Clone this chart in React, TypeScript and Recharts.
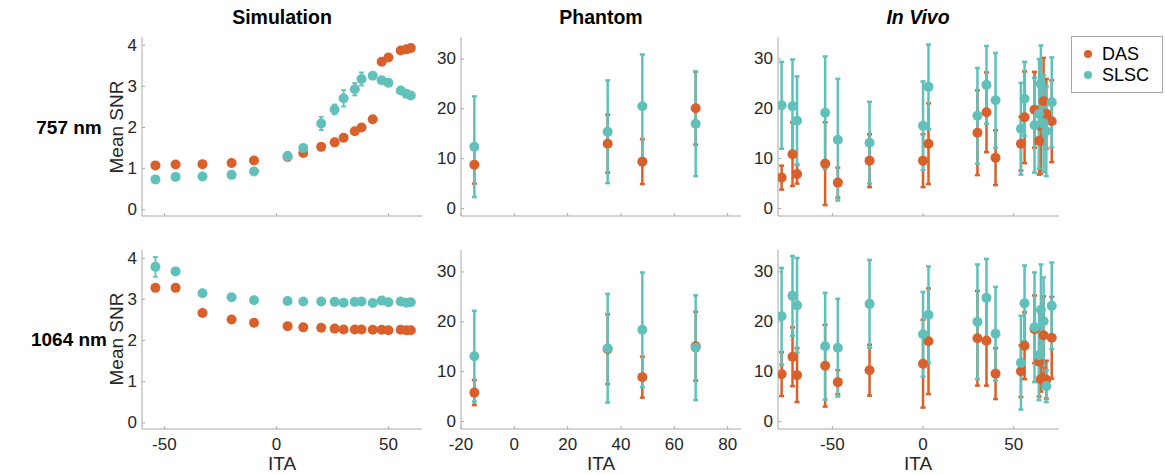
import { ScatterChart, Scatter, XAxis, YAxis, ErrorBar } from 'recharts'

const DAS_COLOR = '#d9602b'
const SLSC_COLOR = '#61c1ba'
const AXIS_COLOR = '#a8a8a8'
const TEXT_COLOR = '#262626'
const FONT = '"Liberation Sans", Arial, Helvetica, sans-serif'

// Simulation
const simIta = [-54, -45, -33, -20, -10, 5, 12, 20, 26, 30, 35, 38, 43, 47, 50, 55.5, 58, 60]
const sim757Das = [1.08, 1.1, 1.11, 1.14, 1.2, 1.29, 1.38, 1.53, 1.64, 1.75, 1.91, 2.0, 2.2, 3.6, 3.7, 3.87, 3.9, 3.93]
const sim757DasErr = [0.02, 0.02, 0.02, 0.02, 0.02, 0.02, 0.02, 0.02, 0.02, 0.02, 0.02, 0.02, 0.02, 0.02, 0.02, 0.02, 0.02, 0.02]
const sim757Slsc = [0.74, 0.8, 0.81, 0.85, 0.93, 1.3, 1.5, 2.1, 2.44, 2.71, 2.93, 3.18, 3.26, 3.15, 3.09, 2.9, 2.82, 2.78]
const sim757SlscErr = [0.03, 0.03, 0.08, 0.05, 0.04, 0.11, 0.08, 0.16, 0.12, 0.2, 0.15, 0.16, 0.04, 0.03, 0.03, 0.03, 0.03, 0.03]
const sim1064Das = [3.28, 3.28, 2.67, 2.51, 2.43, 2.35, 2.32, 2.31, 2.29, 2.27, 2.27, 2.27, 2.26, 2.26, 2.25, 2.26, 2.25, 2.25]
const sim1064DasErr = [0.02, 0.02, 0.02, 0.02, 0.02, 0.02, 0.02, 0.02, 0.02, 0.02, 0.02, 0.02, 0.02, 0.02, 0.02, 0.02, 0.02, 0.02]
const sim1064Slsc = [3.79, 3.68, 3.15, 3.05, 2.98, 2.96, 2.95, 2.95, 2.94, 2.92, 2.94, 2.95, 2.91, 2.97, 2.93, 2.95, 2.92, 2.93]
const sim1064SlscErr = [0.24, 0.03, 0.02, 0.02, 0.02, 0.02, 0.02, 0.02, 0.02, 0.02, 0.02, 0.02, 0.02, 0.02, 0.02, 0.02, 0.02, 0.02]

// Phantom
const phIta = [-15, 35, 48, 68]
const ph757Das = [8.8, 13.0, 9.4, 20.1]
const ph757DasErr = [3.8, 5.8, 4.5, 7.3]
const ph757Slsc = [12.4, 15.4, 20.5, 17.0]
const ph757SlscErr = [10.1, 10.3, 10.4, 10.5]
const ph1064Das = [5.8, 14.5, 8.9, 15.1]
const ph1064DasErr = [2.5, 7.0, 4.1, 6.9]
const ph1064Slsc = [13.1, 14.7, 18.4, 14.8]
const ph1064SlscErr = [9.1, 10.9, 11.5, 10.5]

// In vivo
const ivIta = [-78, -72, -69.5, -54, -47, -29.5, 0, 3, 30, 35, 40, 54, 56, 61.5, 64, 65, 66.5, 68, 71]
const iv757Das = [6.2, 10.9, 6.9, 9.0, 5.2, 9.6, 9.6, 13.0, 15.2, 19.3, 10.2, 13.0, 18.3, 19.8, 13.6, 16.5, 21.5, 19.0, 17.5]
const iv757DasErr = [2.4, 6.4, 1.9, 8.3, 3.0, 5.3, 5.3, 8.1, 8.5, 8.0, 5.5, 5.4, 9.2, 7.6, 6.8, 9.5, 8.7, 7.0, 8.2]
const iv757Slsc = [20.7, 20.5, 17.6, 19.2, 13.8, 13.2, 16.6, 24.4, 18.6, 24.8, 21.7, 16.0, 22.0, 16.7, 19.0, 25.0, 17.0, 15.5, 21.3]
const iv757SlscErr = [8.7, 9.4, 8.9, 11.3, 12.2, 8.2, 8.9, 8.5, 9.6, 7.8, 9.5, 9.2, 7.4, 9.5, 11.0, 7.7, 9.7, 9.0, 9.0]
const iv1064Das = [9.5, 13.0, 9.3, 11.2, 7.9, 10.3, 11.6, 16.1, 16.7, 16.2, 9.6, 10.1, 15.2, 18.5, 12.0, 8.5, 17.3, 8.4, 16.8]
const iv1064DasErr = [4.4, 5.9, 5.4, 8.2, 2.4, 5.1, 8.8, 10.6, 9.5, 9.0, 5.1, 5.2, 6.7, 6.8, 7.0, 2.5, 7.8, 3.8, 8.2]
const iv1064Slsc = [21.1, 25.2, 23.3, 15.1, 14.8, 23.6, 17.5, 21.4, 20.0, 24.8, 17.6, 11.8, 23.7, 18.9, 13.3, 22.4, 20.1, 7.1, 23.2]
const iv1064SlscErr = [9.7, 8.0, 9.5, 10.7, 9.8, 8.8, 8.5, 9.7, 11.5, 7.8, 9.4, 9.4, 7.6, 11.0, 9.0, 9.1, 8.8, 3.2, 8.7]

const simXTicks = [-50, 0, 50]
const simYTicks = [0, 1, 2, 3, 4]
const phXTicks = [-20, 0, 20, 40, 60, 80]
const ivXTicks = [-50, 0, 50]
const snrYTicks = [0, 10, 20, 30]

type Pt = { x: number; y: number; err: number }

const toPoints = (xs: number[], ys: number[], errs: number[]): Pt[] =>
  xs.map((x, i) => ({ x, y: ys[i], err: errs[i] }))

interface PanelProps {
  box: { x: number; y: number; w: number; h: number }
  xDomain: [number, number]
  xTicks: number[]
  yDomain: [number, number]
  yTicks: number[]
  das: Pt[]
  slsc: Pt[]
  showX: boolean
  barWidth: number
}

const L = 50
const B = 50
const PAD = 3
const TICK = 3

function Panel({ box, xDomain, xTicks, yDomain, yTicks, das, slsc, showX, barWidth }: PanelProps) {
  const dot = (color: string) => (p: any) => <circle cx={p.cx} cy={p.cy} r={5} fill={color} />
  const txt = { fontFamily: FONT, fontSize: 17, fill: TEXT_COLOR }
  return (
    <div style={{ position: 'absolute', left: box.x - L, top: box.y - PAD }}>
      <ScatterChart
        width={box.w + L + PAD}
        height={box.h + B + PAD}
        margin={{ top: PAD, right: PAD, bottom: 0, left: 0 }}
      >
        <XAxis
          type="number"
          dataKey="x"
          domain={xDomain}
          ticks={xTicks}
          interval={0}
          allowDataOverflow
          height={B}
          tickSize={0}
          tickMargin={0}
          stroke={AXIS_COLOR}
          tick={(p: any) => (
            <g>
              <line x1={p.x} x2={p.x} y1={p.y} y2={p.y - TICK} stroke={AXIS_COLOR} />
              {showX && (
                <text x={p.x} y={p.y + 15} textAnchor="middle" dominantBaseline="central" {...txt}>
                  {p.payload.value}
                </text>
              )}
            </g>
          )}
        />
        <XAxis
          xAxisId="top"
          orientation="top"
          type="number"
          domain={xDomain}
          ticks={xTicks}
          interval={0}
          allowDataOverflow
          height={0}
          tickSize={0}
          tickMargin={0}
          stroke={AXIS_COLOR}
          tick={(p: any) => <line x1={p.x} x2={p.x} y1={p.y} y2={p.y + TICK} stroke={AXIS_COLOR} />}
        />
        <YAxis
          type="number"
          dataKey="y"
          domain={yDomain}
          ticks={yTicks}
          interval={0}
          allowDataOverflow
          width={L}
          tickSize={0}
          tickMargin={0}
          stroke={AXIS_COLOR}
          tick={(p: any) => (
            <g>
              <line x1={p.x} x2={p.x + TICK} y1={p.y} y2={p.y} stroke={AXIS_COLOR} />
              <text x={p.x - 5} y={p.y} textAnchor="end" dominantBaseline="central" {...txt}>
                {p.payload.value}
              </text>
            </g>
          )}
        />
        <YAxis
          yAxisId="right"
          orientation="right"
          type="number"
          domain={yDomain}
          ticks={yTicks}
          interval={0}
          allowDataOverflow
          width={0}
          tickSize={0}
          tickMargin={0}
          stroke={AXIS_COLOR}
          tick={(p: any) => <line x1={p.x} x2={p.x - TICK} y1={p.y} y2={p.y} stroke={AXIS_COLOR} />}
        />
        <Scatter data={das} shape={dot(DAS_COLOR)} isAnimationActive={false}>
          <ErrorBar dataKey="err" direction="y" width={2.5} strokeWidth={barWidth} stroke={DAS_COLOR} />
        </Scatter>
        <Scatter data={slsc} shape={dot(SLSC_COLOR)} isAnimationActive={false}>
          <ErrorBar dataKey="err" direction="y" width={2.5} strokeWidth={barWidth} stroke={SLSC_COLOR} />
        </Scatter>
      </ScatterChart>
    </div>
  )
}

const cols = [142, 461, 778]
const rows = [37, 250]
const boxW = 280
const boxH = 179

export default function App() {
  const t = { fontFamily: FONT, fill: '#000' }
  return (
    <div style={{ position: 'fixed', left: 0, top: 0, width: 1165, height: 474, background: '#fff' }}>
      <Panel
        box={{ x: cols[0], y: rows[0], w: boxW, h: boxH }}
        xDomain={[-60, 65]} xTicks={simXTicks} yDomain={[-0.15, 4.2]} yTicks={simYTicks}
        das={toPoints(simIta, sim757Das, sim757DasErr)}
        slsc={toPoints(simIta, sim757Slsc, sim757SlscErr)}
        showX={false} barWidth={1.8}
      />
      <Panel
        box={{ x: cols[0], y: rows[1], w: boxW, h: boxH }}
        xDomain={[-60, 65]} xTicks={simXTicks} yDomain={[-0.15, 4.2]} yTicks={simYTicks}
        das={toPoints(simIta, sim1064Das, sim1064DasErr)}
        slsc={toPoints(simIta, sim1064Slsc, sim1064SlscErr)}
        showX barWidth={1.8}
      />
      <Panel
        box={{ x: cols[1], y: rows[0], w: boxW, h: boxH }}
        xDomain={[-20, 85]} xTicks={phXTicks} yDomain={[-1.5, 34.4]} yTicks={snrYTicks}
        das={toPoints(phIta, ph757Das, ph757DasErr)}
        slsc={toPoints(phIta, ph757Slsc, ph757SlscErr)}
        showX={false} barWidth={2.5}
      />
      <Panel
        box={{ x: cols[1], y: rows[1], w: boxW, h: boxH }}
        xDomain={[-20, 85]} xTicks={phXTicks} yDomain={[-1.5, 34.4]} yTicks={snrYTicks}
        das={toPoints(phIta, ph1064Das, ph1064DasErr)}
        slsc={toPoints(phIta, ph1064Slsc, ph1064SlscErr)}
        showX barWidth={2.5}
      />
      <Panel
        box={{ x: cols[2], y: rows[0], w: boxW + 1, h: boxH }}
        xDomain={[-80, 75]} xTicks={ivXTicks} yDomain={[-1.5, 34.4]} yTicks={snrYTicks}
        das={toPoints(ivIta, iv757Das, iv757DasErr)}
        slsc={toPoints(ivIta, iv757Slsc, iv757SlscErr)}
        showX={false} barWidth={2.5}
      />
      <Panel
        box={{ x: cols[2], y: rows[1], w: boxW + 1, h: boxH }}
        xDomain={[-80, 75]} xTicks={ivXTicks} yDomain={[-1.5, 34.4]} yTicks={snrYTicks}
        das={toPoints(ivIta, iv1064Das, iv1064DasErr)}
        slsc={toPoints(ivIta, iv1064Slsc, iv1064SlscErr)}
        showX barWidth={2.5}
      />

      {/* Titles and labels */}
      <svg width={1165} height={474} style={{ position: 'absolute', left: 0, top: 0, pointerEvents: 'none' }}>
        <text x={282} y={17} textAnchor="middle" dominantBaseline="central" fontSize={19.5} fontWeight="bold" {...t}>Simulation</text>
        <text x={601} y={17} textAnchor="middle" dominantBaseline="central" fontSize={19.5} fontWeight="bold" {...t}>Phantom</text>
        <text x={918} y={17} textAnchor="middle" dominantBaseline="central" fontSize={19.5} fontWeight="bold" fontStyle="italic" {...t}>In Vivo</text>
        <text x={69} y={127} textAnchor="middle" dominantBaseline="central" fontSize={19} fontWeight="bold" {...t}>757 nm</text>
        <text x={69} y={339} textAnchor="middle" dominantBaseline="central" fontSize={19} fontWeight="bold" {...t}>1064 nm</text>
        {[127, 339].map((cy) => (
          <text key={cy} x={116} y={cy} transform={`rotate(-90 116 ${cy})`} textAnchor="middle" dominantBaseline="central" fontSize={19} fontFamily={FONT} fill={TEXT_COLOR}>
            Mean SNR
          </text>
        ))}
        {[282, 601, 918].map((cx) => (
          <text key={cx} x={cx} y={463} textAnchor="middle" dominantBaseline="central" fontSize={19} fontFamily={FONT} fill={TEXT_COLOR}>
            ITA
          </text>
        ))}
      </svg>

      {/* Legend */}
      <div
        style={{
          position: 'absolute', left: 1071, top: 36, width: 90, height: 55,
          border: `1px solid ${AXIS_COLOR}`, background: '#fff', fontFamily: FONT, fontSize: 18, color: '#000',
        }}
      >
        {[
          { name: 'DAS', color: DAS_COLOR },
          { name: 'SLSC', color: SLSC_COLOR },
        ].map((item, i) => (
          <div key={item.name} style={{ position: 'absolute', left: 12, top: 7 + i * 21, display: 'flex', alignItems: 'center', height: 20 }}>
            <span style={{ width: 8, height: 8, borderRadius: 4, background: item.color, marginRight: 10 }} />
            <span>{item.name}</span>
          </div>
        ))}
      </div>
    </div>
  )
}
